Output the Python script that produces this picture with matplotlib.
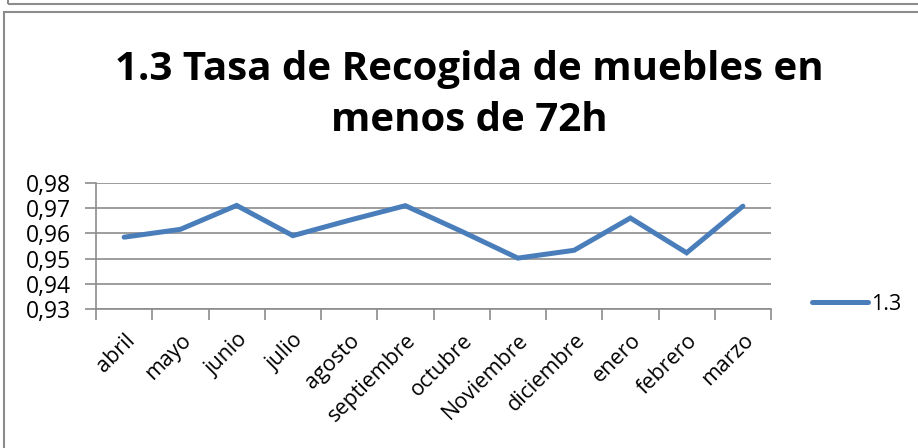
import matplotlib
matplotlib.use("Agg")
import matplotlib.pyplot as plt
from matplotlib.patches import Rectangle
from matplotlib.ticker import FixedLocator, FuncFormatter
from matplotlib.transforms import ScaledTranslation

months = ["abril", "mayo", "junio", "julio", "agosto", "septiembre", "octubre",
          "Noviembre", "diciembre", "enero", "febrero", "marzo"]
values = [0.9585, 0.9616, 0.9711, 0.9591, 0.9652, 0.9710, 0.9608,
          0.9502, 0.9533, 0.9661, 0.9523, 0.9708]
series_name = "1.3"
title = "1.3 Tasa de Recogida de muebles en\nmenos de 72h"
yticks = [0.93, 0.94, 0.95, 0.96, 0.97, 0.98]

plt.rcParams['font.family'] = ['Open Sans', 'DejaVu Sans']

fig = plt.figure(figsize=(9.18, 4.48), dpi=100)
# outer chart frame
fig.patches.append(Rectangle((4/918, -0.1), 1.2, 0.1 + (448-12)/448, transform=fig.transFigure,
                             fill=False, edgecolor='#8c8c8c', linewidth=1.5))
fig.patches.append(Rectangle((8/918, 1-4/448), 1.2, 0.1, transform=fig.transFigure,
                             fill=False, edgecolor='#8c8c8c', linewidth=1.5))

ax = fig.add_axes([96/918, (448-309)/448, (771-96)/918, (309-183)/448])
x = list(range(len(months)))
line, = ax.plot(x, values, color='#4A7EBB', linewidth=3.6, solid_capstyle='round',
                solid_joinstyle='miter', label=series_name, zorder=3)

ax.set_xlim(-0.5, len(months) - 0.5)
ax.set_ylim(0.93, 0.98)
ax.set_yticks(yticks)
ax.yaxis.set_major_formatter(FuncFormatter(lambda v, p: f"{v:.2f}".replace('.', ',')))
ax.grid(axis='y', color='#8c8c8c', linewidth=1.2)
ax.set_axisbelow(True)

ax.xaxis.set_major_locator(FixedLocator([i - 0.5 for i in range(len(months) + 1)]))
ax.xaxis.set_minor_locator(FixedLocator(x))
ax.set_xticklabels([], minor=False)
labels = ax.set_xticklabels(months, minor=True, rotation=45, ha='right', va='top',
                            rotation_mode='anchor', fontsize=15.5)
off = ScaledTranslation(-4/100, 0, fig.dpi_scale_trans)
for lab in labels:
    lab.set_transform(lab.get_transform() + off)
ax.tick_params(axis='x', which='major', length=8, width=1.2, color='#8c8c8c', direction='out')
ax.tick_params(axis='x', which='minor', length=0, pad=15)
ax.tick_params(axis='y', length=8, width=1.2, color='#8c8c8c', labelsize=16.5, pad=10)

for s in ['top', 'right']:
    ax.spines[s].set_visible(False)
for s in ['left', 'bottom']:
    ax.spines[s].set_color('#8c8c8c')
    ax.spines[s].set_linewidth(1.2)

fig.text(469/918, 1 - 95/448, title, ha='center', va='center', fontsize=29,
         fontweight='bold', linespacing=1.4)

fig.legend(handles=[line], labels=[series_name], loc='center left',
           bbox_to_anchor=(803/918, 1 - 304/448), frameon=False, fontsize=15.5,
           handlelength=2.6, handletextpad=0.15, borderaxespad=0)

fig.savefig("out.png", dpi=100, facecolor='white')
